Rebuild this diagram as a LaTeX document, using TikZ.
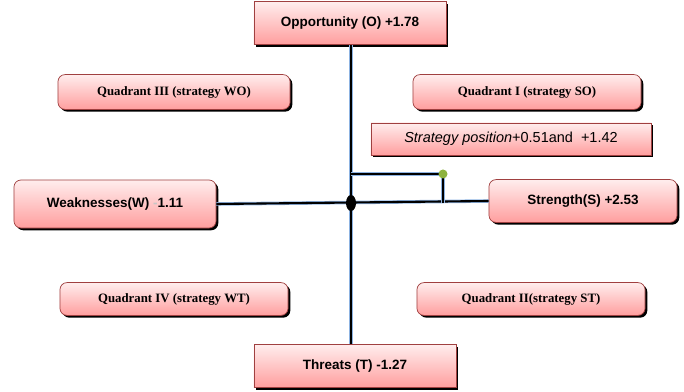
\documentclass[tikz,border=0pt]{standalone}
\usepackage{fontspec}
\setmainfont{Liberation Serif}
\setsansfont{Liberation Sans}
\usetikzlibrary{shadows}
\definecolor{axisblue}{HTML}{8DB3E2}
\definecolor{boxedge}{HTML}{A04040}
\definecolor{dotgreen}{HTML}{8DB33E}
\tikzset{
  box/.style={draw=boxedge, line width=0.5pt, top color=red!7, bottom color=red!38, inner sep=0pt,
    drop shadow={fill=black, opacity=1, shadow xshift=1.6pt, shadow yshift=-1.6pt},
    font=\sffamily\bfseries\fontsize{9.6}{11}\selectfont},
  roundbox/.style={box, rounded corners=5pt},
  quadbox/.style={roundbox, font=\rmfamily\bfseries\fontsize{9.1}{10}\selectfont},
  axisline/.style={draw=axisblue, double=black, double distance=1.5pt, line width=0.5pt}
}
\begin{document}
\begin{tikzpicture}[x=0.025cm, y=-0.025cm]
  \useasboundingbox (0,0) rectangle (684,392);
  % main factors
  \node[box, minimum width=4.8cm, minimum height=1.07cm] (opp) at (350,23) {Opportunity (O) +1.78};
  \node[box, minimum width=5.05cm, minimum height=1.07cm] (thr) at (355,366) {Threats (T) -1.27};
  \node[roundbox, minimum width=5.05cm, minimum height=1.2cm] (weak) at (115,204) {Weaknesses(W) \textcolor{gray!45}{-}1.11};
  \node[roundbox, minimum width=4.7cm, minimum height=1.07cm] (str) at (583,201) {Strength(S) +2.53};
  % quadrants
  \node[quadbox, minimum width=5.8cm, minimum height=0.87cm] (q3) at (174,92) {Quadrant III (strategy WO)};
  \node[quadbox, minimum width=5.7cm, minimum height=0.87cm] (q1) at (527,92) {Quadrant I (strategy SO)};
  \node[quadbox, minimum width=5.7cm, minimum height=0.82cm] (q4) at (174,299) {Quadrant IV (strategy WT)};
  \node[quadbox, minimum width=5.7cm, minimum height=0.82cm] (q2) at (531,299) {Quadrant II(strategy ST)};
  \node[box, minimum width=7.0cm, minimum height=0.8cm, font=\sffamily\fontsize{10.3}{12}\selectfont] (spos) at (511,139) {\textit{Strategy position}+0.51and~ +1.42};
  % axes
  \draw[axisline] (opp.south -| 351,0) -- (351,0 |- thr.north);
  \draw[axisline] (weak.east) -- (str.west);
  \coordinate (origin) at (351,203);
  \coordinate (pos) at (443,174);
  \draw[axisline] (origin |- pos) -- (pos) -- (pos |- origin);
  \fill[black] (origin) ellipse [x radius=5, y radius=8];
  \fill[dotgreen] (pos) circle (4.5);
\end{tikzpicture}
\end{document}
